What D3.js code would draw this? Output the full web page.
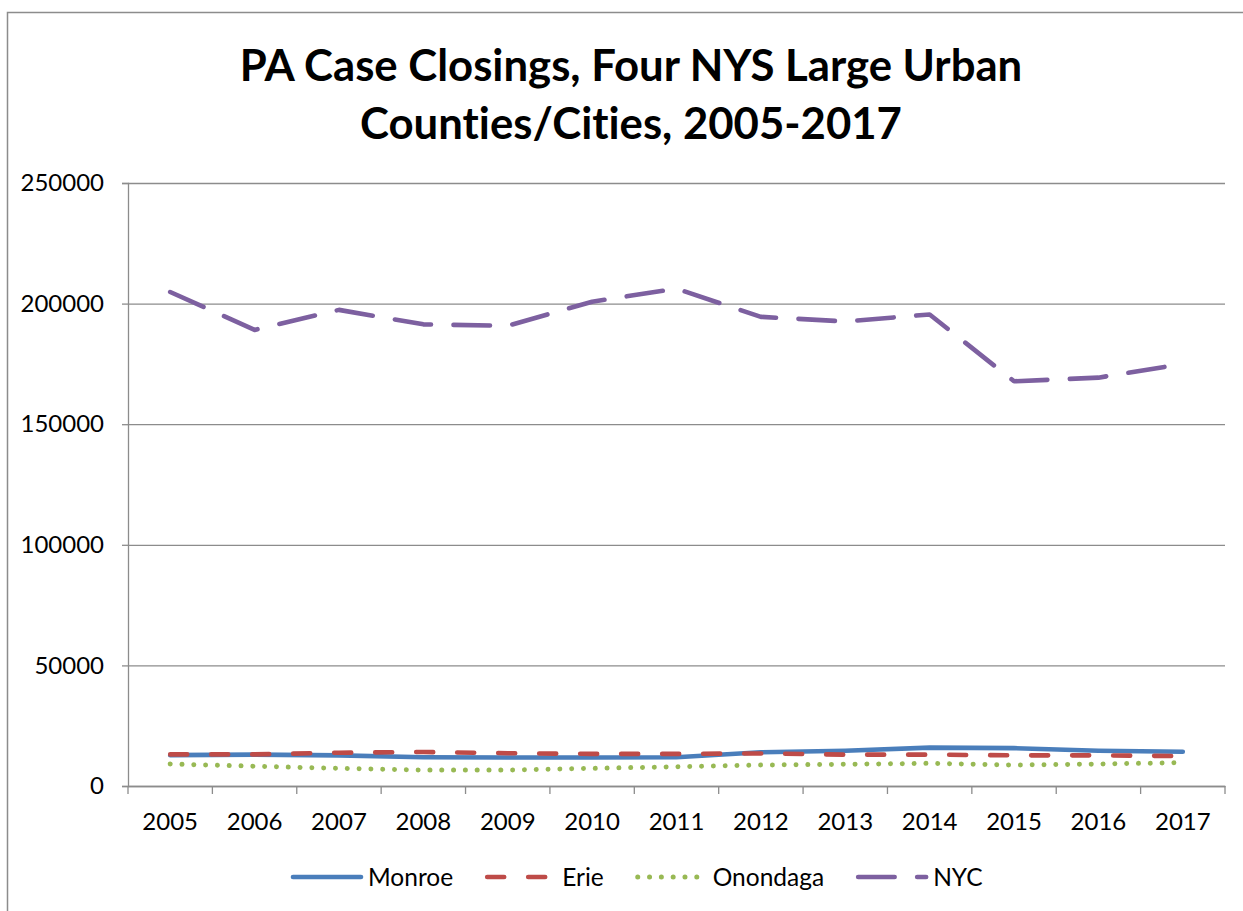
<!DOCTYPE html>
<html>
<head>
<meta charset="utf-8">
<script src="https://cdn.jsdelivr.net/npm/d3@7"></script>
<style>
  body { margin: 0; background: #fff; }
  text { font-family: Lato, "Open Sans", sans-serif; fill: #000; font-variant-ligatures: none; }
</style>
</head>
<body>
<div id="chart"></div>
<script>
// chart values
var years = ["2005", "2006", "2007", "2008", "2009", "2010", "2011",
             "2012", "2013", "2014", "2015", "2016", "2017"];
var monroe = [12800, 13000, 12700, 11900, 11800, 11800, 11900, 14000, 14600, 15900, 15700, 14600, 14200];
var erie = [13100, 13100, 13800, 14100, 13600, 13300, 13300, 13500, 13000, 13000, 12700, 12700, 12400];
var onondaga = [9100, 8200, 7300, 6600, 6600, 7300, 8000, 8700, 9000, 9400, 8700, 9100, 9700];
var nyc = [204800, 189100, 197400, 191400, 190800, 200800, 206200, 194500, 192600, 195500, 167800, 169300, 175000];
var yTicks = [0, 50000, 100000, 150000, 200000, 250000];
var seriesNames = ["Monroe", "Erie", "Onondaga", "NYC"];

var svgWidth = 1243;
var svgHeight = 911;

var margin = { top: 183, right: 18, bottom: 125, left: 128 };
var width = svgWidth - margin.left - margin.right;
var height = svgHeight - margin.top - margin.bottom;

var svg = d3.select("#chart")
  .append("svg")
  .attr("width", svgWidth)
  .attr("height", svgHeight);

// outer chart border
svg.append("rect")
  .attr("x", 7.5)
  .attr("y", 12.5)
  .attr("width", svgWidth + 20)
  .attr("height", svgHeight + 20)
  .attr("fill", "none")
  .attr("stroke", "#8c8c8c")
  .attr("stroke-width", 1.5);

// title
var title = svg.append("text")
  .attr("text-anchor", "middle")
  .attr("font-weight", "bold")
  .attr("font-size", 43.7);
title.append("tspan").attr("x", 631).attr("y", 81).text("PA Case Closings, Four NYS Large Urban");
title.append("tspan").attr("x", 631).attr("y", 139).text("Counties/Cities, 2005-2017");

var plot = svg.append("g")
  .attr("transform", `translate(${margin.left}, ${margin.top})`);

var xScale = d3.scaleBand()
  .domain(years)
  .range([0, width]);

var yScale = d3.scaleLinear()
  .domain([0, 250000])
  .range([height, 0]);

// gridlines
plot.append("g")
  .call(d3.axisLeft(yScale).tickValues(yTicks).tickSize(-width).tickFormat(""))
  .call(g => g.select(".domain").remove())
  .selectAll("line")
  .attr("stroke", "#8c8c8c")
  .attr("stroke-width", 1.3);

// y axis
var yAxis = plot.append("g")
  .call(d3.axisLeft(yScale).tickValues(yTicks).tickSize(6).tickPadding(18).tickFormat(d3.format("d")));
yAxis.select(".domain").attr("stroke", "#8c8c8c").attr("stroke-width", 1.3);
yAxis.selectAll("line").attr("stroke", "#8c8c8c").attr("stroke-width", 1.3);
yAxis.selectAll("text").attr("font-size", 24).attr("font-family", "Lato");

// x axis: labels centred, tick marks between categories
var xAxis = plot.append("g")
  .attr("transform", `translate(0, ${height})`)
  .call(d3.axisBottom(xScale).tickSize(0).tickPadding(27));
xAxis.select(".domain").attr("stroke", "#8c8c8c").attr("stroke-width", 1.3);
xAxis.selectAll("text").attr("font-size", 24).attr("font-family", "Lato");

xAxis.selectAll(".sep")
  .data(years.concat(["end"]))
  .enter()
  .append("line")
  .attr("class", "sep")
  .attr("x1", d => d === "end" ? width : xScale(d))
  .attr("x2", d => d === "end" ? width : xScale(d))
  .attr("y1", 0)
  .attr("y2", 8)
  .attr("stroke", "#8c8c8c")
  .attr("stroke-width", 1.3);

// series styles
var styles = {
  Monroe:   { values: monroe,   color: "#4a7ebb", dash: null },
  Erie:     { values: erie,     color: "#be4b48", dash: "17 24" },
  Onondaga: { values: onondaga, color: "#98b954", dash: "0.01 11.8" },
  NYC:      { values: nyc,      color: "#7d60a0", dash: "36.5 22.5" }
};

var line = d3.line()
  .x((d, i) => xScale(years[i]) + xScale.bandwidth() / 2)
  .y(d => yScale(d));

seriesNames.forEach(function(name) {
  var s = styles[name];
  plot.append("path")
    .datum(s.values)
    .attr("d", line)
    .attr("fill", "none")
    .attr("stroke", s.color)
    .attr("stroke-width", name === "Onondaga" ? 5 : 4.6)
    .attr("stroke-linecap", "round")
    .attr("stroke-linejoin", "round")
    .attr("stroke-dasharray", s.dash);
});

// legend
var legend = svg.append("g").attr("transform", "translate(0, 877)");
var lx = 291;
seriesNames.forEach(function(name) {
  var s = styles[name];
  var item = legend.append("g").attr("transform", `translate(${lx}, 0)`);
  item.append("line")
    .attr("x1", 2).attr("x2", 70)
    .attr("y1", 0).attr("y2", 0)
    .attr("stroke", s.color)
    .attr("stroke-width", name === "Onondaga" ? 5 : 4.6)
    .attr("stroke-linecap", "round")
    .attr("stroke-dasharray", s.dash);
  var t = item.append("text")
    .attr("x", 77)
    .attr("y", 9)
    .attr("font-size", 24.5)
    .text(name);
  lx += 77 + t.node().getComputedTextLength() + 32;
});
</script>
</body>
</html>
